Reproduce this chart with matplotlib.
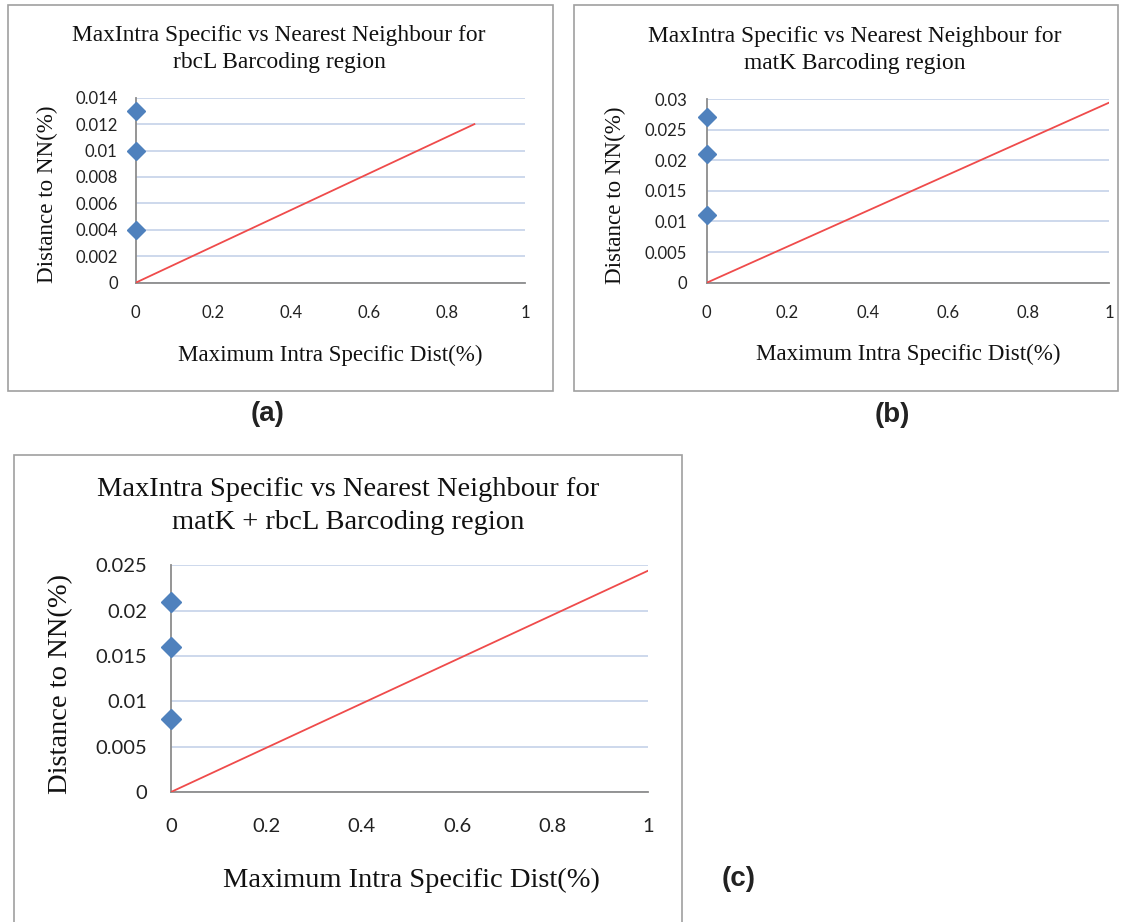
import matplotlib
matplotlib.use("Agg")
import matplotlib.pyplot as plt
from matplotlib.patches import Rectangle

W, H = 1123, 922
DPI = 100

# ---- data ----
titles = [
    "MaxIntra Specific vs Nearest Neighbour for\nrbcL Barcoding region",
    "MaxIntra Specific vs Nearest Neighbour for\nmatK Barcoding region",
    "MaxIntra Specific vs Nearest Neighbour for\nmatK + rbcL Barcoding region",
]
panel_tags = ["(a)", "(b)", "(c)"]
x_label = "Maximum Intra Specific Dist(%)"
y_label = "Distance to NN(%)"

pts_x_a = [0, 0, 0]
pts_y_a = [0.013, 0.010, 0.004]
pts_x_b = [0, 0, 0]
pts_y_b = [0.027, 0.021, 0.011]
pts_x_c = [0, 0, 0]
pts_y_c = [0.021, 0.016, 0.008]

line_x_a = [0, 0.87]
line_y_a = [0, 0.012]
line_x_b = [0, 1.0]
line_y_b = [0, 0.0294]
line_x_c = [0, 1.0]
line_y_c = [0, 0.0244]

yticks_a = [0, 0.002, 0.004, 0.006, 0.008, 0.01, 0.012, 0.014]
yticks_b = [0, 0.005, 0.01, 0.015, 0.02, 0.025, 0.03]
yticks_c = [0, 0.005, 0.01, 0.015, 0.02, 0.025]
xticks = [0, 0.2, 0.4, 0.6, 0.8, 1]
xtick_labels = ["0", "0.2", "0.4", "0.6", "0.8", "1"]

fig = plt.figure(figsize=(W / DPI, H / DPI), dpi=DPI)

def fx(px):
    return px / W

def fy(py):
    return 1 - py / H

def add_box(x0, y0, x1, y1):
    fig.patches.append(Rectangle((fx(x0), fy(y1)), fx(x1) - fx(x0), fy(y0) - fy(y1),
                                 transform=fig.transFigure, fill=False,
                                 edgecolor="#a0a0a0", linewidth=1.2))

SERIF = ["Liberation Serif", "DejaVu Serif"]
TICKF = ["Lato", "DejaVu Sans"]

def make_panel(ax_px, ymax, yticks, px, py, lx, ly, title, title_pos, title_fs,
               xl_pos, yl_pos, lab_fs, tick_fs, xpad, ypad, msize):
    x0, x1, yb, yt = ax_px
    ax = fig.add_axes([fx(x0), fy(yb), fx(x1) - fx(x0), fy(yt) - fy(yb)])
    ax.set_xlim(0, 1)
    ax.set_ylim(0, ymax)
    ax.set_yticks(yticks)
    ax.set_yticklabels([("%g" % v) for v in yticks])
    ax.set_xticks(xticks)
    ax.set_xticklabels(xtick_labels)
    ax.grid(axis="y", color="#c9d6ea", linewidth=1.3)
    ax.set_axisbelow(True)
    for s in ["top", "right"]:
        ax.spines[s].set_visible(False)
    for s in ["left", "bottom"]:
        ax.spines[s].set_color("#8c8c8c")
        ax.spines[s].set_linewidth(1.3)
    ax.tick_params(length=0)
    ax.tick_params(axis="x", pad=xpad)
    ax.tick_params(axis="y", pad=ypad)
    for t in ax.get_xticklabels() + ax.get_yticklabels():
        t.set_fontfamily(TICKF)
        t.set_fontsize(tick_fs)
        t.set_color("#222222")
    ax.plot(lx, ly, color="#ef4b4b", linewidth=1.3, zorder=3)
    ax.plot(px, py, linestyle="none", marker="D", markersize=msize,
            color="#4f81bd", markeredgecolor="#4f81bd", clip_on=False, zorder=4)
    fig.text(fx(title_pos[0]), fy(title_pos[1]), title, ha="center", va="center",
             family=SERIF, fontsize=title_fs, linespacing=1.4, color="#111111")
    fig.text(fx(xl_pos[0]), fy(xl_pos[1]), x_label, ha="center", va="center",
             family=SERIF, fontsize=lab_fs, color="#111111")
    fig.text(fx(yl_pos[0]), fy(yl_pos[1]), y_label, ha="center", va="center",
             rotation=90, family=SERIF, fontsize=lab_fs, color="#111111")
    return ax

# boxes
add_box(8, 5, 553, 391)
add_box(574, 5, 1118, 391)
add_box(14, 455, 682, 930)

make_panel((135.7, 525, 282.7, 97.7), 0.014, yticks_a, pts_x_a, pts_y_a,
           line_x_a, line_y_a, titles[0], (279, 49), 16.8,
           (330, 355), (47, 194), 16.6, 12, 16, 13, 9.5)
make_panel((706.8, 1109, 282.7, 99), 0.03, yticks_b, pts_x_b, pts_y_b,
           line_x_b, line_y_b, titles[1], (855, 50), 16.8,
           (908, 354), (615, 195), 16.6, 12, 16, 14, 9.5)
make_panel((171, 648, 792, 565.3), 0.025, yticks_c, pts_x_c, pts_y_c,
           line_x_c, line_y_c, titles[2], (348, 506), 20.5,
           (411, 880), (61, 684), 20.5, 14.5, 19, 17, 10.5)

tag_pos = [(268, 414), (892, 415), (739, 879)]
for tag, (x, y) in zip(panel_tags, tag_pos):
    fig.text(fx(x), fy(y), tag, ha="center", va="center", fontsize=20,
             fontweight="bold", family=["Liberation Sans", "DejaVu Sans"], color="#222222")

fig.savefig("out.png", dpi=DPI)
